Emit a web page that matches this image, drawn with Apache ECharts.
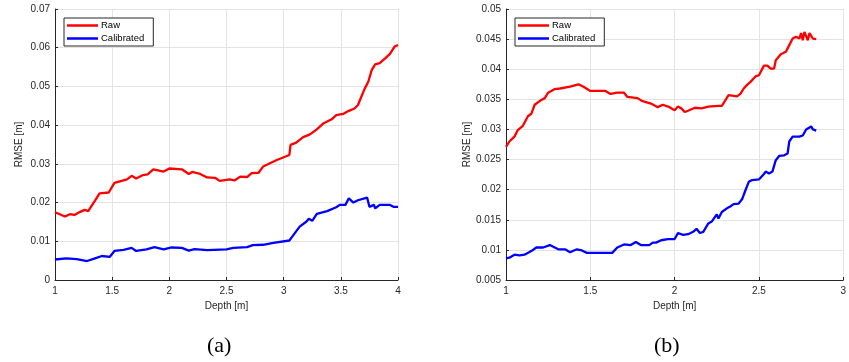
<!DOCTYPE html>
<html>
<head>
<meta charset="utf-8">
<script src="https://cdn.jsdelivr.net/npm/echarts@6/dist/echarts.min.js"></script>
<style>
html,body{margin:0;padding:0;background:#fff;}
#chart{width:849px;height:362px;}
</style>
</head>
<body>
<div id="chart"></div>
<script>
// ---- Panel (a) ----
const aRawDepth = [1.0,1.087,1.13,1.17,1.22,1.26,1.29,1.35,1.39,1.47,1.52,1.63,1.67,1.71,1.77,1.81,1.86,1.95,2.0,2.11,2.17,2.2,2.27,2.33,2.40,2.44,2.53,2.57,2.62,2.68,2.72,2.78,2.82,2.94,3.05,3.06,3.11,3.17,3.23,3.29,3.35,3.42,3.46,3.52,3.57,3.62,3.65,3.68,3.71,3.74,3.77,3.80,3.84,3.89,3.93,3.97,4.0];
const aRaw = [0.0175,0.0164,0.0170,0.0168,0.0176,0.0181,0.0178,0.0205,0.0224,0.0226,0.0251,0.0260,0.0269,0.0262,0.0271,0.0273,0.0286,0.0280,0.0288,0.0286,0.0274,0.0279,0.0274,0.0265,0.0264,0.0256,0.0260,0.0257,0.0267,0.0266,0.0276,0.0277,0.0293,0.0310,0.0323,0.0349,0.0355,0.0369,0.0376,0.0389,0.0405,0.0415,0.0426,0.0429,0.0437,0.0443,0.0452,0.0474,0.0495,0.0512,0.0542,0.0557,0.0560,0.0573,0.0584,0.0603,0.0607];
const aCalDepth = [1.0,1.1,1.19,1.28,1.35,1.41,1.48,1.52,1.60,1.67,1.71,1.80,1.87,1.95,2.02,2.11,2.17,2.22,2.33,2.50,2.56,2.68,2.73,2.82,2.91,3.05,3.07,3.14,3.20,3.22,3.25,3.29,3.38,3.46,3.49,3.54,3.57,3.61,3.65,3.73,3.75,3.79,3.80,3.84,3.93,3.96,4.0];
const aCal = [0.0053,0.0056,0.0054,0.0049,0.0056,0.0062,0.0060,0.0075,0.0078,0.0083,0.0075,0.0079,0.0085,0.0079,0.0084,0.0083,0.0076,0.0080,0.0077,0.0079,0.0083,0.0085,0.0090,0.0091,0.0096,0.0102,0.0110,0.0138,0.0151,0.0158,0.0153,0.0171,0.0178,0.0188,0.0194,0.0194,0.0211,0.0200,0.0206,0.0213,0.0189,0.0194,0.0185,0.0194,0.0194,0.0189,0.0189];

// ---- Panel (b) ----
const bRawDepth = [1.0,1.02,1.05,1.07,1.10,1.13,1.15,1.17,1.21,1.23,1.25,1.29,1.32,1.33,1.38,1.43,1.46,1.50,1.59,1.62,1.66,1.70,1.72,1.78,1.81,1.86,1.90,1.93,1.97,2.0,2.02,2.04,2.06,2.08,2.12,2.16,2.20,2.21,2.26,2.28,2.32,2.37,2.39,2.41,2.43,2.45,2.48,2.50,2.53,2.55,2.57,2.59,2.60,2.63,2.66,2.68,2.70,2.72,2.74,2.75,2.76,2.77,2.79,2.80,2.82,2.84];
const bRaw = [0.0271,0.0280,0.0288,0.0299,0.0306,0.0322,0.0326,0.0341,0.0349,0.0352,0.0361,0.0367,0.0368,0.0370,0.0371,0.0375,0.0371,0.0364,0.0364,0.0359,0.0361,0.0361,0.0354,0.0352,0.0347,0.0343,0.0337,0.0341,0.0337,0.0332,0.0338,0.0335,0.0329,0.0331,0.0336,0.0335,0.0338,0.0335,0.0339,0.0339,0.0357,0.0355,0.0359,0.0368,0.0374,0.0379,0.0388,0.0390,0.0406,0.0406,0.0401,0.0401,0.0415,0.0425,0.0429,0.0440,0.0451,0.0454,0.0451,0.0460,0.0448,0.0462,0.0448,0.0460,0.0451,0.0450];
const bCalDepth = [1.0,1.02,1.05,1.08,1.11,1.15,1.18,1.22,1.26,1.31,1.35,1.38,1.42,1.45,1.48,1.63,1.66,1.70,1.74,1.77,1.80,1.85,1.87,1.89,1.92,1.96,2.0,2.02,2.05,2.08,2.11,2.13,2.15,2.17,2.20,2.22,2.25,2.26,2.28,2.31,2.33,2.35,2.38,2.40,2.42,2.44,2.46,2.50,2.53,2.54,2.56,2.58,2.60,2.62,2.65,2.67,2.68,2.70,2.74,2.76,2.78,2.81,2.82,2.84];
const bCal = [0.0086,0.0087,0.0092,0.0091,0.0092,0.0098,0.0104,0.0104,0.0108,0.0101,0.0101,0.0096,0.0101,0.0099,0.0095,0.0095,0.0104,0.0109,0.0108,0.0113,0.0108,0.0108,0.0112,0.0112,0.0116,0.0118,0.0118,0.0128,0.0125,0.0126,0.0130,0.0135,0.0128,0.0130,0.0144,0.0147,0.0159,0.0152,0.0163,0.0169,0.0172,0.0176,0.0177,0.0184,0.0199,0.0213,0.0216,0.0217,0.0226,0.0230,0.0227,0.0230,0.0249,0.0256,0.0257,0.0260,0.0280,0.0288,0.0288,0.0290,0.0300,0.0305,0.0300,0.0298];

const seriesNames = ['Raw', 'Calibrated'];
const xTicksA = {min: 1, max: 4, interval: 0.5};
const yTicksA = {min: 0, max: 0.07, interval: 0.01};
const xTicksB = {min: 1, max: 3, interval: 0.5};
const yTicksB = {min: 0.005, max: 0.05, interval: 0.005};
const captions = ['(a)', '(b)'];
const xTitle = 'Depth [m]';
const yTitle = 'RMSE [m]';

function zip(xs, ys){ return xs.map((x,i)=>[x, ys[i]]); }

const FONT = '"Liberation Sans", Arial, Helvetica, sans-serif';
const TXT = '#262626';
const GRIDC = '#e3e3e3';

function xAxisCfg(idx, t){
  return {
    type: 'value', gridIndex: idx, min: t.min, max: t.max, interval: t.interval,
    name: xTitle, nameLocation: 'middle', nameGap: 16,
    nameTextStyle: {color: TXT, fontSize: 10, fontFamily: FONT},
    axisLine: {onZero: false, lineStyle: {color: TXT, width: 1}},
    axisTick: {inside: true, length: 3, lineStyle: {color: TXT}},
    axisLabel: {color: TXT, fontSize: 10, fontFamily: FONT, margin: 6,
      alignMaxLabel: 'center', alignMinLabel: 'center',
      formatter: v => String(+v.toFixed(3))},
    splitLine: {show: true, lineStyle: {color: GRIDC, width: 1}}
  };
}
function yAxisCfg(idx, t){
  return {
    type: 'value', gridIndex: idx, min: t.min, max: t.max, interval: t.interval,
    name: yTitle, nameLocation: 'middle', nameGap: 31,
    nameTextStyle: {color: TXT, fontSize: 10, fontFamily: FONT},
    axisLine: {show: true, onZero: false, lineStyle: {color: TXT, width: 1}},
    axisTick: {show: true, inside: true, length: 3, lineStyle: {color: TXT}},
    axisLabel: {color: TXT, fontSize: 10, fontFamily: FONT, margin: 5,
      formatter: v => String(+v.toFixed(3))},
    splitLine: {show: true, lineStyle: {color: GRIDC, width: 1}}
  };
}
function lineSeries(name, idx, data, color){
  return {
    name: name, type: 'line', xAxisIndex: idx, yAxisIndex: idx,
    data: data, symbol: 'none', showSymbol: false, animation: false,
    lineStyle: {color: color, width: 2.3}, itemStyle: {color: color}
  };
}
function legendCfg(left){
  return {
    data: seriesNames.map(n => ({name: n, icon: 'rect'})),
    left: left, top: 18, orient: 'vertical',
    backgroundColor: '#fff', borderColor: TXT, borderWidth: 1, borderRadius: 0,
    padding: [2, 9, 2, 3], itemGap: 2, itemWidth: 31, itemHeight: 2.5,
    textStyle: {color: '#000', fontSize: 9.5, fontFamily: FONT, padding: [0,0,0,-2], lineHeight: 11},
    selectedMode: false
  };
}

const chart = echarts.init(document.getElementById('chart'), null, {renderer: 'canvas'});
const option = {
  animation: false,
  backgroundColor: '#fff',
  grid: [
    {left: 55, top: 9, width: 343, height: 271},
    {left: 506, top: 9, width: 343, height: 271}
  ],
  xAxis: [xAxisCfg(0, xTicksA), xAxisCfg(1, xTicksB)],
  yAxis: [yAxisCfg(0, yTicksA), yAxisCfg(1, yTicksB)],
  legend: [legendCfg(64), legendCfg(515)],
  series: [
    lineSeries(seriesNames[0], 0, zip(aRawDepth, aRaw), '#ff0000'),
    lineSeries(seriesNames[1], 0, zip(aCalDepth, aCal), '#0000ff'),
    lineSeries(seriesNames[0], 1, zip(bRawDepth, bRaw), '#ff0000'),
    lineSeries(seriesNames[1], 1, zip(bCalDepth, bCal), '#0000ff')
  ],
  graphic: [
    {type: 'text', left: 207, top: 335, style: {text: captions[0], fill: '#000', font: '22px "Liberation Serif", "DejaVu Serif", serif'}},
    {type: 'text', left: 654, top: 335, style: {text: captions[1], fill: '#000', font: '22px "Liberation Serif", "DejaVu Serif", serif'}}
  ]
};
chart.setOption(option);
</script>
</body>
</html>
